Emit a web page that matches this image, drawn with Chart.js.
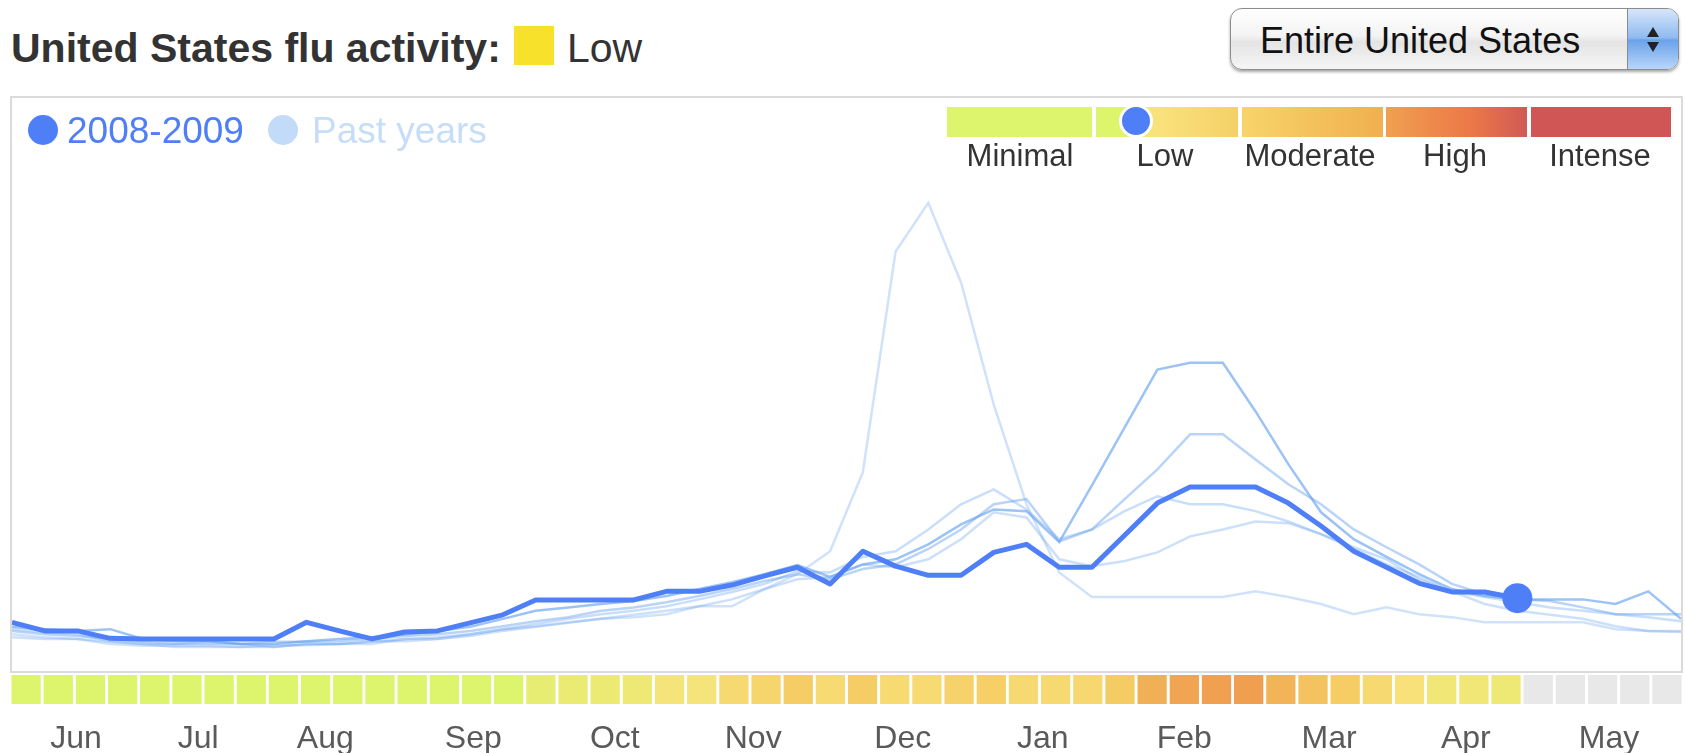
<!DOCTYPE html>
<html>
<head>
<meta charset="utf-8">
<title>United States flu activity</title>
<script src="https://cdn.jsdelivr.net/npm/chart.js@4/dist/chart.umd.min.js"></script>
<style>
  body { margin: 0; width: 1685px; height: 753px; position: relative; overflow: hidden; background: #fff;
         font-family: "Liberation Sans", Arial, sans-serif; }
  .abs { position: absolute; white-space: nowrap; }
  #title { left: 11px; top: 28px; font-size: 41px; line-height: 41px; font-weight: bold; color: #333; }
  #titleBox { left: 514px; top: 26px; width: 40px; height: 39px; background: #f8e12b; }
  #titleLevel { left: 567px; top: 28px; font-size: 41px; line-height: 41px; color: #333; }

  #select { left: 1230px; top: 8px; width: 447px; height: 60px; border: 1.5px solid #8c8c8c; border-radius: 12px;
            background: linear-gradient(#ffffff, #f3f3f3 45%, #e4e4e4 55%, #f5f5f5);
            box-shadow: 0 2px 3px rgba(0,0,0,0.35); overflow: hidden; }
  #selectText { left: 29px; top: 14px; font-size: 36px; line-height: 36px; color: #111; }
  #selectArrow { right: 0; top: 0; width: 50px; height: 60px; border-left: 1px solid #8c8c8c;
                 background: linear-gradient(#d6e6fa, #8fbaf0 48%, #6aa2ea 52%, #b8d6fa); }
  .tri { position: absolute; left: 19px; width: 0; height: 0; border-left: 6px solid transparent; border-right: 6px solid transparent; }
  #triUp { top: 18px; border-bottom: 10px solid #222; }
  #triDown { top: 33px; border-top: 10px solid #222; }

  #plot { left: 10px; top: 96px; width: 1669px; height: 573px; border: 2px solid #dadada; }
  #cells { left: 10px; top: 675px; width: 1673px; height: 78px; }

  .dot { position: absolute; border-radius: 50%; }
  .legendText { font-size: 37px; line-height: 37px; }
  .seg { position: absolute; top: 107px; height: 30px; }
  .lvl { position: absolute; top: 140px; font-size: 31px; line-height: 31px; color: #333; transform: translateX(-50%); white-space: nowrap; }
</style>
</head>
<body>

<div id="title" class="abs">United States flu activity:</div>
<div id="titleBox" class="abs"></div>
<div id="titleLevel" class="abs">Low</div>

<div id="select" class="abs">
  <div id="selectText" class="abs">Entire United States</div>
  <div id="selectArrow" class="abs"><div id="triUp" class="tri"></div><div id="triDown" class="tri"></div></div>
</div>

<div id="plot" class="abs"><canvas id="fluChart"></canvas></div>
<div id="cells" class="abs"><canvas id="cellChart"></canvas></div>

<!-- legend -->
<div class="dot" style="left:28px; top:115px; width:30px; height:30px; background:#4f7ff6;"></div>
<div class="abs legendText" style="left:67px; top:112px; color:#4f7ff6;">2008-2009</div>
<div class="dot" style="left:268px; top:115px; width:30px; height:30px; background:#c2dbf8;"></div>
<div class="abs legendText" style="left:312px; top:112px; color:#c6ddf9;">Past years</div>

<!-- activity scale -->
<div class="seg" style="left:947px; width:145px; background:#dcf56c;"></div>
<div class="seg" style="left:1096px; width:142px; background:linear-gradient(to right, #dcf56c 0%, #dcf56c 18%, #f9e27c 42%, #f5d068 100%);"></div>
<div class="seg" style="left:1242px; width:141px; background:linear-gradient(to right, #f7d46a, #f0b050);"></div>
<div class="seg" style="left:1386px; width:141px; background:linear-gradient(to right, #f0a050, #ec7848 60%, #d05a55);"></div>
<div class="seg" style="left:1531px; width:140px; background:#d05555;"></div>
<div class="dot" style="left:1119px; top:104px; width:28px; height:28px; background:#4f7ff6; border:3px solid #fff;"></div>
<div class="lvl" style="left:1020px;">Minimal</div>
<div class="lvl" style="left:1165px;">Low</div>
<div class="lvl" style="left:1310px;">Moderate</div>
<div class="lvl" style="left:1455px;">High</div>
<div class="lvl" style="left:1600px;">Intense</div>

<script>
// weekly flu estimates, arbitrary units (0 = bottom of the plot, 100 = top)
const weeks = Array.from({ length: 52 }, (_, i) => 'Week ' + (i + 1));

const season2008 = [
  8.5, 7.0, 7.0, 5.7, 5.6, 5.6, 5.6, 5.6, 5.6, 8.5, 7.0, 5.6, 6.8, 7.0, 8.4, 9.8,
  12.4, 12.4, 12.4, 12.4, 13.9, 13.9, 15.0, 16.6, 18.1, 15.2, 20.9, 18.3, 16.7, 16.7,
  20.7, 22.1, 18.1, 18.1, 23.7, 29.3, 32.1, 32.1, 32.1, 29.3, 25.3, 20.9, 18.1, 15.3,
  13.8, 13.8, 12.7
];

const past2003 = [
  6.4, 5.9, 5.6, 4.7, 4.4, 4.4, 4.4, 4.2, 4.2, 4.7, 4.7, 4.7, 5.6, 5.6, 6.4, 7.3,
  7.8, 8.5, 9.1, 9.4, 9.9, 11.3, 11.3, 14.3, 16.9, 20.9, 34.7, 73.2, 81.7, 67.8,
  46.5, 29.1, 17.2, 12.9, 12.9, 12.9, 12.9, 12.9, 13.9, 12.9, 11.7, 9.9, 11.1, 9.9,
  9.4, 8.5, 8.5, 8.5, 8.5, 7.3, 7.0, 7.0
];
const past2004 = [
  7.0, 6.4, 6.1, 5.6, 5.1, 4.7, 4.7, 4.7, 5.1, 5.1, 5.2, 5.6, 6.1, 6.4, 7.0, 7.8,
  8.7, 9.4, 10.5, 11.1, 12.0, 13.1, 14.3, 15.7, 16.9, 16.0, 17.8, 18.6, 21.3, 24.7,
  29.1, 30.0, 22.6, 24.7, 30.0, 35.2, 41.3, 41.3, 36.9, 32.6, 29.1, 24.7, 21.6, 18.6,
  15.2, 13.4, 12.5, 12.2, 11.1, 9.9, 9.9, 9.9
];
const past2005 = [
  7.3, 6.8, 6.4, 5.2, 4.7, 4.7, 5.1, 4.7, 4.2, 4.7, 4.7, 5.1, 5.6, 5.9, 6.4, 7.3,
  8.2, 9.1, 9.9, 10.5, 11.3, 12.5, 13.8, 15.2, 17.4, 17.2, 19.9, 20.9, 24.7, 29.1,
  31.7, 28.2, 23.0, 24.7, 27.9, 30.5, 29.1, 29.1, 27.9, 26.1, 23.9, 21.6, 19.5, 16.0,
  13.9, 12.9, 12.0, 11.1, 10.5, 9.9, 9.4, 8.7
];
const past2006 = [
  5.9, 5.6, 5.6, 5.1, 4.7, 4.2, 4.2, 4.2, 4.5, 4.5, 4.7, 5.2, 5.2, 5.6, 6.1, 7.0,
  7.7, 8.4, 9.1, 9.8, 10.5, 11.3, 12.5, 14.3, 16.0, 16.4, 18.6, 18.1, 19.5, 23.0,
  27.7, 26.8, 19.5, 18.3, 19.2, 20.7, 23.5, 24.7, 26.1, 25.8, 23.9, 21.3, 18.6, 16.4,
  13.9, 11.7, 10.5, 9.8, 9.1, 7.8, 7.0, 6.8
];
const past2007 = [
  7.7, 7.3, 7.0, 7.3, 5.6, 5.2, 5.2, 4.7, 4.7, 5.2, 5.6, 5.9, 6.4, 7.0, 7.7, 9.1,
  10.5, 11.1, 11.7, 12.2, 13.1, 14.3, 15.5, 16.9, 18.5, 16.4, 18.6, 19.5, 22.1, 25.6,
  28.2, 27.9, 22.5, 32.4, 42.5, 52.6, 53.8, 53.8, 45.3, 36.1, 27.7, 23.0, 19.9, 16.9,
  14.3, 13.1, 12.5, 12.5, 12.5, 11.7, 13.9, 9.1
];

// weekly activity level: 0 minimal, 1 low, 2 moderate, 3 high, 5 intense (null = no data yet)
const activity = [
  0, 0, 0, 0, 0, 0, 0, 0, 0, 0, 0, 0, 0, 0, 0, 0,
  0.4, 0.55, 0.6, 0.65, 0.9, 0.9, 1.35, 1.5, 1.8, 1.3, 1.8, 1.3, 1.3, 1.6,
  1.75, 1.35, 1.35, 1.4, 1.9, 2.6, 2.9, 3.0, 3.05, 2.5, 2.15, 1.8, 1.35, 1.05,
  0.75, 0.75, 0.65, null, null, null, null, null
];

const monthNames = ['Jun', 'Jul', 'Aug', 'Sep', 'Oct', 'Nov', 'Dec', 'Jan', 'Feb', 'Mar', 'Apr', 'May'];
const monthTicks = [1.55, 5.35, 9.3, 13.9, 18.3, 22.6, 27.25, 31.6, 36.0, 40.5, 44.75, 49.2];

const levelStops = ['#dcf56c', '#f8e27a', '#f5c860', '#f0a050', '#e87048', '#d05555'];

function hexToRgb(h) {
    return [1, 3, 5].map(i => parseInt(h.slice(i, i + 2), 16));
}

function levelColor(v) {
    if (v === null) return '#e8e8e8';
    const i = Math.min(Math.floor(v), levelStops.length - 2);
    const t = v - i;
    const a = hexToRgb(levelStops[i]);
    const b = hexToRgb(levelStops[i + 1]);
    const c = a.map((x, k) => Math.round(x + (b[k] - x) * t));
    return 'rgb(' + c.join(',') + ')';
}

const pastSeasons = [
    { label: 'Past years', data: past2003, color: 'rgba(100,160,240,0.30)' },
    { label: '2004-2005', data: past2004, color: 'rgba(100,160,240,0.45)' },
    { label: '2005-2006', data: past2005, color: 'rgba(100,160,240,0.35)' },
    { label: '2006-2007', data: past2006, color: 'rgba(100,160,240,0.32)' },
    { label: '2007-2008', data: past2007, color: 'rgba(90,155,240,0.60)' },
];

const mainColor = '#4f7ff6';

new Chart(document.getElementById('fluChart'), {
    type: 'line',

    data: {
        labels: weeks,
        datasets: [
            {
                label: '2008-2009',
                data: season2008,
                borderColor: mainColor,
                backgroundColor: mainColor,
                borderWidth: 5,
                borderJoinStyle: 'round',
                pointRadius: ctx => ctx.dataIndex === season2008.length - 1 ? 15 : 0,
                pointBorderWidth: 0,
                pointBackgroundColor: mainColor,
            },
            ...pastSeasons.map(s => ({
                label: s.label,
                data: s.data,
                borderColor: s.color,
                borderWidth: 2.5,
                pointRadius: 0,
            }))
        ]
    },

    options: {
        animation: false,
        responsive: true,
        maintainAspectRatio: false,
        layout: { padding: 0, autoPadding: false },
        elements: { line: { tension: 0 } },
        plugins: {
            legend: { display: false },
            tooltip: { enabled: false },
        },
        scales: {
            x: { display: false },
            y: { display: false, min: 0, max: 100 },
        }
    }
});

new Chart(document.getElementById('cellChart'), {
    type: 'bar',

    data: {
        datasets: [
            {
                label: 'Activity level',
                data: activity.map((v, i) => ({ x: i, y: 1 })),
                backgroundColor: activity.map(levelColor),
                barPercentage: 0.91,
                categoryPercentage: 1,
            }
        ]
    },

    options: {
        animation: false,
        responsive: true,
        maintainAspectRatio: false,
        layout: { padding: 0, autoPadding: false },
        plugins: {
            legend: { display: false },
            tooltip: { enabled: false },
        },
        scales: {
            x: {
                type: 'linear',
                min: -0.5,
                max: 51.5,
                offset: false,
                grid: { display: false, drawTicks: false },
                border: { display: false },
                afterBuildTicks: axis => { axis.ticks = monthTicks.map(v => ({ value: v })); },
                afterFit: axis => { axis.height = 49; },
                ticks: {
                    autoSkip: false,
                    maxRotation: 0,
                    padding: 18,
                    color: '#5a5a5a',
                    font: { family: '"Liberation Sans", Arial, sans-serif', size: 32, lineHeight: 1.1 },
                    callback: (value, index) => monthNames[index],
                }
            },
            y: { display: false, min: 0, max: 1 },
        }
    }
});
</script>
</body>
</html>
